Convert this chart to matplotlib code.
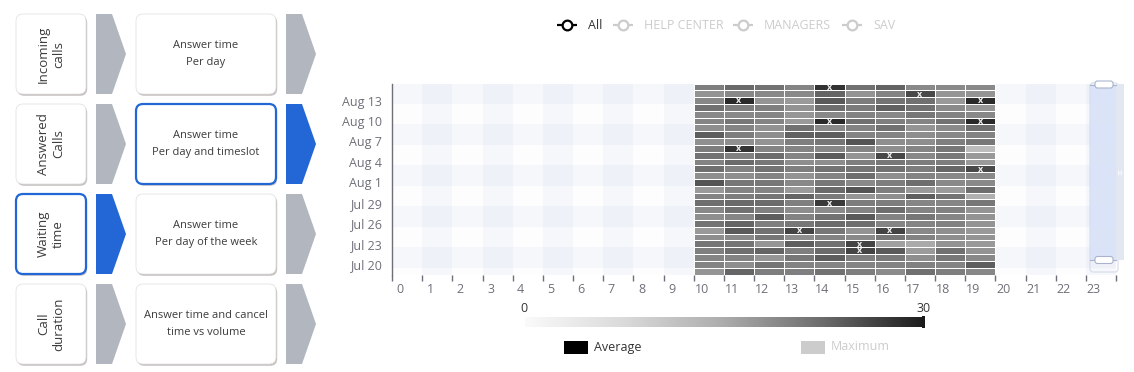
import matplotlib.pyplot as plt
import numpy as np
from matplotlib.colors import LinearSegmentedColormap
from matplotlib.patches import FancyBboxPatch, Polygon, Rectangle

plt.rcParams['font.family'] = ['Open Sans', 'DejaVu Sans']

# --- data -------------------------------------------------------------
hours = list(range(10, 20))
all_hours = list(range(24))
dates = ['Jul 19', 'Jul 20', 'Jul 21', 'Jul 22', 'Jul 23', 'Jul 24', 'Jul 25',
         'Jul 26', 'Jul 27', 'Jul 28', 'Jul 29', 'Jul 30', 'Jul 31', 'Aug 1',
         'Aug 2', 'Aug 3', 'Aug 4', 'Aug 5', 'Aug 6', 'Aug 7', 'Aug 8',
         'Aug 9', 'Aug 10', 'Aug 11', 'Aug 12', 'Aug 13', 'Aug 14', 'Aug 15']
# answer time per date (rows, Jul 19 first) and hour slot 10..19 (columns)
answer_time = [
    [17.8, 23.1, 20.5, 20.2, 21.7, 20.3, 18.8, 22.0, 20.3, 19.3],  # Jul 19
    [19.8, 18.5, 21.4, 19.7, 19.6, 19.6, 19.7, 20.0, 19.6, 23.8],  # Jul 20
    [19.6, 19.8, 17.6, 21.2, 23.8, 20.3, 20.9, 18.5, 21.2, 19.2],  # Jul 21
    [20.2, 22.2, 23.1, 20.3, 22.5, 26.3, 24.2, 16.9, 22.0, 17.9],  # Jul 22
    [21.3, 21.4, 17.6, 23.8, 21.8, 26.3, 16.4, 15.2, 18.0, 17.2],  # Jul 23
    [18.5, 19.0, 21.2, 18.4, 19.8, 19.0, 21.2, 19.8, 18.5, 17.8],  # Jul 24
    [17.2, 24.2, 21.8, 26.3, 21.2, 17.9, 26.3, 19.2, 18.4, 17.2],  # Jul 25
    [21.6, 23.1, 20.2, 21.2, 22.5, 22.2, 19.6, 19.6, 20.0, 17.7],  # Jul 26
    [18.4, 19.5, 23.8, 19.8, 21.7, 24.2, 19.8, 21.2, 19.5, 17.9],  # Jul 27
    [19.2, 21.8, 20.2, 18.6, 18.8, 19.8, 22.2, 19.6, 20.0, 17.7],  # Jul 28
    [22.2, 22.7, 22.6, 20.2, 27.3, 20.6, 20.4, 19.5, 19.5, 21.2],  # Jul 29
    [19.6, 20.3, 21.3, 23.1, 20.6, 17.5, 18.4, 23.7, 21.6, 14.3],  # Jul 30
    [17.1, 19.6, 19.6, 17.1, 22.6, 24.7, 20.3, 17.2, 17.1, 22.2],  # Jul 31
    [24.7, 21.2, 21.2, 19.2, 21.2, 19.0, 20.3, 22.2, 19.0, 19.0],  # Aug 1
    [18.4, 18.5, 19.6, 17.9, 19.6, 22.2, 18.4, 19.8, 19.2, 19.0],  # Aug 2
    [22.0, 19.9, 21.6, 20.2, 21.6, 21.4, 21.7, 20.5, 22.9, 25.8],  # Aug 3
    [19.8, 22.6, 21.2, 18.5, 18.6, 20.3, 21.1, 20.4, 20.5, 17.1],  # Aug 4
    [21.6, 20.0, 22.4, 19.5, 24.0, 17.8, 26.0, 19.2, 20.9, 17.2],  # Aug 5
    [20.5, 28.0, 19.6, 19.6, 19.3, 19.5, 18.5, 19.5, 21.2, 12.5],  # Aug 6
    [18.3, 18.3, 17.9, 20.2, 21.3, 24.7, 18.4, 18.5, 20.2, 21.1],  # Aug 7
    [23.8, 20.4, 18.4, 23.5, 23.7, 19.7, 19.7, 18.6, 19.2, 19.9],  # Aug 8
    [18.5, 19.6, 18.0, 21.9, 19.0, 19.8, 21.9, 17.7, 18.9, 22.2],  # Aug 9
    [19.5, 21.2, 19.6, 17.2, 28.8, 22.0, 20.3, 19.6, 21.7, 28.8],  # Aug 10
    [19.2, 19.2, 19.5, 17.5, 19.2, 19.7, 19.2, 21.2, 19.7, 19.2],  # Aug 11
    [21.9, 20.5, 20.2, 17.9, 22.2, 20.7, 23.5, 21.8, 18.9, 17.6],  # Aug 12
    [19.3, 28.8, 17.7, 17.1, 24.2, 20.6, 21.6, 22.0, 17.2, 28.8],  # Aug 13
    [17.9, 19.2, 19.2, 19.0, 23.1, 17.9, 19.7, 25.8, 17.6, 17.7],  # Aug 14
    [20.3, 22.7, 21.7, 19.6, 28.0, 21.8, 23.4, 19.0, 19.0, 19.1],  # Aug 15
]
scale_min, scale_max = 0, 30
marked_level = 25.5

series_names = ['All', 'HELP CENTER', 'MANAGERS', 'SAV']
series_on = [True, False, False, False]
piece_names = ['Average', 'Maximum']

nav_left = ['Incoming\ncalls', 'Answered\nCalls', 'Waiting\ntime', 'Call\nduration']
nav_mid = ['Answer time\nPer day', 'Answer time\nPer day and timeslot',
           'Answer time\nPer day of the week', 'Answer time and cancel\ntime vs volume']
sel_left = 2
sel_mid = 1

# --- figure -----------------------------------------------------------
W, H = 1134, 372
fig = plt.figure(figsize=(W / 100, H / 100), dpi=100)

AXIS_GREY = '#6e7079'
BLUE = '#2367d6'
ARROW_GREY = '#b1b6bf'

cmap = LinearSegmentedColormap.from_list(
    'answer', [(0, '#fafafa'), (0.25, '#dadada'), (0.5, '#acacac'),
               (0.75, '#6c6c6c'), (1, '#1e1e1e')])

# heatmap axes
x0, x1, y0, y1 = 392, 1116, 83.5, 274.5
ax = fig.add_axes([x0 / W, 1 - y1 / H, (x1 - x0) / W, (y1 - y0) / H])
ax.set_xlim(0, 24)
ax.set_ylim(-0.5, len(dates) - 0.5)

# split areas (alternating bands) on both axes
for h in all_hours:
    c = (210/255, 219/255, 238/255) if h % 2 else (250/255, 250/255, 250/255)
    ax.axvspan(h, h + 1, color=c, alpha=0.2, lw=0, zorder=0)
band_edges = [-0.5] + list(np.arange(0.5, len(dates), 3))
if band_edges[-1] < len(dates) - 0.5:
    band_edges.append(len(dates) - 0.5)
for k in range(len(band_edges) - 1):
    c = (210/255, 219/255, 238/255) if k % 2 else (250/255, 250/255, 250/255)
    ax.axhspan(band_edges[k], band_edges[k + 1], color=c, alpha=0.2, lw=0, zorder=0)

vals = np.array(answer_time)
xe = np.arange(hours[0], hours[-1] + 2)
ye = np.arange(-0.5, len(dates))
ax.pcolormesh(xe, ye, vals, cmap=cmap, vmin=scale_min, vmax=scale_max,
              edgecolors='white', linewidth=0.7, zorder=2)
for r in range(len(dates)):
    for c, h in enumerate(hours):
        if vals[r, c] >= marked_level:
            ax.text(h + 0.5, r - 0.05, 'x', color='#eeeeee', fontsize=6.5,
                    fontweight='bold', ha='center', va='center', zorder=3)

for s in ['top', 'right', 'bottom']:
    ax.spines[s].set_visible(False)
ax.spines['left'].set_color(AXIS_GREY)
ax.spines['left'].set_linewidth(1)
ax.set_facecolor('none')

ytick_idx = list(range(1, len(dates), 3))
ax.set_yticks(ytick_idx)
ax.set_yticklabels([dates[i] for i in ytick_idx])
ax.tick_params(axis='y', length=0, pad=7, labelsize=9, labelcolor=AXIS_GREY)

ax.set_xticks(range(25))
ax.set_xticklabels([])
ax.set_xticks([h + 0.27 for h in all_hours], minor=True)
ax.set_xticklabels([str(h) for h in all_hours], minor=True)
ax.tick_params(axis='x', which='major', length=4, width=1, color=AXIS_GREY)
ax.tick_params(axis='x', which='minor', length=0, pad=6, labelsize=9,
               labelcolor=AXIS_GREY)

# overlay in pixel coordinates
ov = fig.add_axes([0, 0, 1, 1], zorder=5)
ov.set_xlim(0, W)
ov.set_ylim(H, 0)
ov.axis('off')
ov.patch.set_alpha(0)


def card(x, y, w, h, selected):
    ov.add_patch(FancyBboxPatch((x + 1.2, y + 1.8), w, h,
                                boxstyle='round,pad=0,rounding_size=7',
                                fc='#9c9292', ec='none', alpha=0.55))
    ov.add_patch(FancyBboxPatch((x, y), w, h,
                                boxstyle='round,pad=0,rounding_size=7',
                                fc='white', ec=BLUE if selected else '#dddddd',
                                lw=1.6 if selected else 0.5))


def arrow(x, y, selected):
    ov.add_patch(Polygon([(x, y), (x + 16, y), (x + 30, y + 40),
                          (x + 16, y + 80), (x, y + 80)], closed=True,
                         fc=BLUE if selected else ARROW_GREY, ec='none'))


for i in range(4):
    top = 14 + 90 * i
    card(16, top, 70, 80, i == sel_left)
    arrow(96, top, i == sel_left)
    card(136, top, 140, 80, i == sel_mid)
    arrow(286, top, i == sel_mid)
    ov.text(51, top + 40, nav_left[i], rotation=90, ha='center', va='center',
            fontsize=9.5, color='#3c3c3c', linespacing=1.25, multialignment='center')
    ov.text(206, top + 40, nav_mid[i], ha='center', va='center', fontsize=8,
            color='#3c3c3c', linespacing=1.75)

# top legend
lx = [557, 613, 733, 842]
for name, on, x in zip(series_names, series_on, lx):
    col = '#000000' if on else '#cccccc'
    ov.plot([x, x + 20], [25, 25], color=col, lw=1.6, solid_capstyle='butt')
    ov.plot([x + 10], [25], marker='o', ms=7, mfc='white', mec=col, mew=1.6)
    ov.text(x + 31, 25.5, name, ha='left', va='center', fontsize=9,
            color='#333333' if on else '#cccccc')

# continuous visual map
grad = np.linspace(scale_min, scale_max, 256)[None, :]
ov.imshow(grad, cmap=cmap, vmin=scale_min, vmax=scale_max, aspect='auto',
          extent=(525, 922, 327, 317), zorder=2)
ov.add_patch(Rectangle((921.5, 316), 3, 12, fc='#1a1a1a', ec='none', zorder=3))
ov.text(523.5, 308, str(scale_min), ha='center', va='center', fontsize=9, color='#333333')
ov.text(924, 308, str(scale_max), ha='center', va='center', fontsize=9, color='#333333')

# pieces legend
for name, x, fc, tc in zip(piece_names, [564, 801], ['#000000', '#cccccc'],
                           ['#333333', '#cccccc']):
    ov.add_patch(Rectangle((x, 341), 24, 13, fc=fc, ec='none'))
    ov.text(x + 30, 347, name, ha='left', va='center', fontsize=9, color=tc)

# vertical data zoom slider
ov.add_patch(FancyBboxPatch((1090, 83), 28, 189, boxstyle='round,pad=0,rounding_size=3',
                            fc='none', ec='#d4dbea', lw=0.8, zorder=4))
ov.add_patch(Rectangle((1116, 84), 8, 176, fc='#e3e7f1', ec='none', zorder=4))
ov.add_patch(Rectangle((1090, 84.5), 26, 175.5, fc='#d7e1f7', ec='none',
                       alpha=0.85, zorder=4))
ov.text(1121, 172, '≡', rotation=90, ha='center', va='center', fontsize=5,
        color='white', zorder=5)
for hy in [84.5, 260]:
    ov.plot([1090, 1116], [hy, hy], color='#a9b4cb', lw=0.8, zorder=5)
    ov.add_patch(FancyBboxPatch((1095, hy - 3.5), 18, 7,
                                boxstyle='round,pad=0,rounding_size=2.5',
                                fc='white', ec='#a9b4cb', lw=0.8, zorder=6))

ov.set_xlim(0, W)
ov.set_ylim(H, 0)

fig.savefig('out.png', dpi=100)
